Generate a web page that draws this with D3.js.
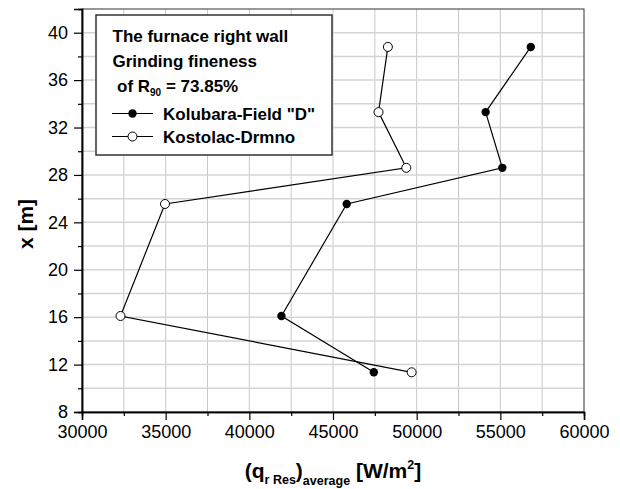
<!DOCTYPE html>
<html>
<head>
<meta charset="utf-8">
<script src="https://cdn.jsdelivr.net/npm/d3@7"></script>
<style>
  body { margin: 0; background: #fff; }
  svg { font-family: "Liberation Sans", Arial, sans-serif; }
</style>
</head>
<body>
<div id="chart"></div>
<script>
// heights along the wall [m]
var heights = [11.35, 16.1, 25.55, 28.6, 33.3, 38.8];
// average resulting flux [W/m2]
var kolubara = [47440, 41920, 45820, 55120, 54120, 56820];
var kostolac = [49700, 32300, 34960, 49380, 47720, 48280];

var xTicks = [30000, 35000, 40000, 45000, 50000, 55000, 60000];
var yTicks = [8, 12, 16, 20, 24, 28, 32, 36, 40];

var width = 620,
    height = 489,
    plotL = 82, plotR = 584, plotT = 9, plotB = 412;

var x = d3.scaleLinear().domain([30000, 60000]).range([plotL, plotR]);
var y = d3.scaleLinear().domain([8, 42]).range([plotB, plotT]);

var svg = d3.select("#chart").append("svg")
    .attr("width", width)
    .attr("height", height);

// grid every half step
var xGrid = d3.range(32500, 60000, 2500),
    yGrid = d3.range(10, 42, 2);

svg.append("g").selectAll("line")
    .data(xGrid)
    .enter().append("line")
    .attr("x1", function(d) { return x(d); })
    .attr("x2", function(d) { return x(d); })
    .attr("y1", plotT).attr("y2", plotB)
    .attr("stroke", "#c8c8c8").attr("stroke-width", 1);

svg.append("g").selectAll("line")
    .data(yGrid)
    .enter().append("line")
    .attr("y1", function(d) { return y(d); })
    .attr("y2", function(d) { return y(d); })
    .attr("x1", plotL).attr("x2", plotR)
    .attr("stroke", "#d4d4d4").attr("stroke-width", 1.5);

// frame
svg.append("rect")
    .attr("x", plotL).attr("y", plotT)
    .attr("width", plotR - plotL).attr("height", plotB - plotT)
    .attr("fill", "none").attr("stroke", "#333").attr("stroke-width", 1);

function styleAxis(g) {
    g.select(".domain").attr("stroke", "#000").attr("stroke-width", 1.5);
    g.selectAll(".tick line").attr("stroke", "#000").attr("stroke-width", 1.2);
    g.selectAll("text").attr("font-size", 18).attr("fill", "#000")
        .attr("font-family", "Liberation Sans, Arial, sans-serif");
}

// minor ticks
svg.append("g")
    .attr("transform", "translate(0," + plotB + ")")
    .call(d3.axisBottom(x).tickValues(d3.range(32500, 60000, 5000)).tickSize(4).tickFormat(""))
    .call(styleAxis);
svg.append("g")
    .attr("transform", "translate(" + plotL + ",0)")
    .call(d3.axisLeft(y).tickValues(d3.range(10, 42, 4)).tickSize(4).tickFormat(""))
    .call(styleAxis);

svg.append("g")
    .attr("transform", "translate(0," + plotB + ")")
    .call(d3.axisBottom(x).tickValues(xTicks).tickSize(8).tickPadding(5).tickFormat(d3.format("d")))
    .call(styleAxis);
svg.append("g")
    .attr("transform", "translate(" + plotL + ",0)")
    .call(d3.axisLeft(y).tickValues(yTicks).tickSize(8).tickPadding(6).tickFormat(d3.format("d")))
    .call(styleAxis);

// series
var line = d3.line()
    .x(function(d) { return x(d[0]); })
    .y(function(d) { return y(d[1]); });

var kolPts = kolubara.map(function(v, i) { return [v, heights[i]]; }),
    kosPts = kostolac.map(function(v, i) { return [v, heights[i]]; });

svg.append("path").datum(kosPts)
    .attr("d", line).attr("fill", "none").attr("stroke", "#000").attr("stroke-width", 1.2);
svg.append("path").datum(kolPts)
    .attr("d", line).attr("fill", "none").attr("stroke", "#000").attr("stroke-width", 1.2);

svg.append("g").selectAll("circle")
    .data(kosPts)
    .enter().append("circle")
    .attr("cx", function(d) { return x(d[0]); })
    .attr("cy", function(d) { return y(d[1]); })
    .attr("r", 4.5)
    .attr("fill", "#fff").attr("stroke", "#000").attr("stroke-width", 1);

svg.append("g").selectAll("circle")
    .data(kolPts)
    .enter().append("circle")
    .attr("cx", function(d) { return x(d[0]); })
    .attr("cy", function(d) { return y(d[1]); })
    .attr("r", 4.2)
    .attr("fill", "#000");

// legend
var lg = svg.append("g");
lg.append("rect")
    .attr("x", 96).attr("y", 15).attr("width", 236).attr("height", 140)
    .attr("fill", "#fff").attr("stroke", "#333").attr("stroke-width", 1.5);

var lt = lg.append("g").attr("font-size", 17).attr("font-weight", "bold").attr("fill", "#000");
lt.append("text").attr("x", 112.5).attr("y", 41.5).text("The furnace right wall");
lt.append("text").attr("x", 112.5).attr("y", 66.5).text("Grinding fineness");
var r90 = lt.append("text").attr("x", 117).attr("y", 92);
r90.append("tspan").text("of R");
r90.append("tspan").attr("font-size", 10).attr("dy", 4).text("90");
r90.append("tspan").attr("dy", -4).text(" = 73.85%");

var items = [
    { name: "Kolubara-Field \"D\"", filled: true, y: 113.5, ty: 119.5 },
    { name: "Kostolac-Drmno", filled: false, y: 136.5, ty: 142.5 }
];
items.forEach(function(it) {
    lg.append("line")
        .attr("x1", 112).attr("x2", 153).attr("y1", it.y).attr("y2", it.y)
        .attr("stroke", "#000").attr("stroke-width", 1.2);
    lg.append("circle")
        .attr("cx", 132.5).attr("cy", it.y).attr("r", it.filled ? 4.2 : 4.5)
        .attr("fill", it.filled ? "#000" : "#fff")
        .attr("stroke", "#000").attr("stroke-width", it.filled ? 0 : 1);
    lt.append("text").attr("x", 163).attr("y", it.ty).text(it.name);
});

// axis titles
var xt = svg.append("text")
    .attr("x", (plotL + plotR) / 2).attr("y", 478)
    .attr("text-anchor", "middle")
    .attr("font-size", 21).attr("font-weight", "bold");
xt.append("tspan").text("(q");
xt.append("tspan").attr("font-size", 12.5).attr("dy", 6).text("r Res");
xt.append("tspan").attr("dy", -6).text(")");
xt.append("tspan").attr("font-size", 12.5).attr("dy", 7).text("average");
xt.append("tspan").attr("dy", -7).text(" [W/m");
xt.append("tspan").attr("font-size", 12.5).attr("dy", -9).text("2");
xt.append("tspan").attr("dy", 9).text("]");

svg.append("text")
    .attr("transform", "translate(33,224)rotate(-90)")
    .attr("text-anchor", "middle")
    .attr("font-size", 21).attr("font-weight", "bold")
    .text("x [m]");
</script>
</body>
</html>
